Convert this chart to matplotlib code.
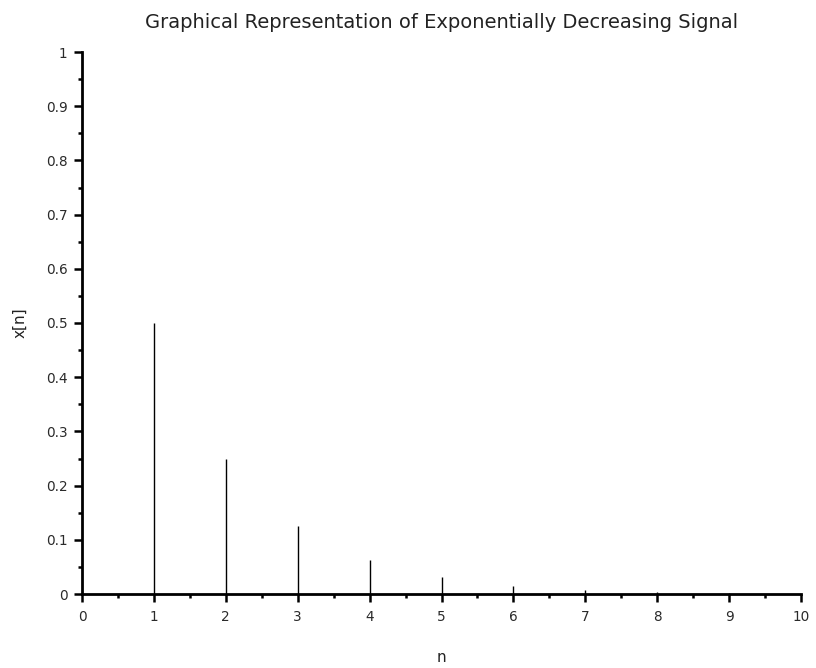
import matplotlib
matplotlib.use("Agg")
import matplotlib.pyplot as plt
from matplotlib.ticker import MultipleLocator

n = [1, 2, 3, 4, 5, 6, 7, 8, 9, 10]
x = [0.5, 0.25, 0.125, 0.0625, 0.03125, 0.015625, 0.0078125, 0.00390625, 0.001953125, 0.0009765625]
y_ticks = [0.0, 0.1, 0.2, 0.3, 0.4, 0.5, 0.6, 0.7, 0.8, 0.9, 1.0]
y_tick_labels = ['0', '0.1', '0.2', '0.3', '0.4', '0.5', '0.6', '0.7', '0.8', '0.9', '1']

plt.rcParams['font.family'] = ['DejaVu Sans']
fig = plt.figure(figsize=(8.16, 6.68), dpi=100)
ax = fig.add_axes([82/816, 1-594/668, (801-82)/816, (594-52)/668])
ax.vlines(n, 0, x, colors='black', linewidth=1)
ax.set_xlim(0, 10)
ax.set_ylim(0, 1)
ax.spines['top'].set_visible(False)
ax.spines['right'].set_visible(False)
for s in ['left', 'bottom']:
    ax.spines[s].set_linewidth(2)
ax.xaxis.set_major_locator(MultipleLocator(1))
ax.xaxis.set_minor_locator(MultipleLocator(0.5))
ax.set_yticks(y_ticks)
ax.set_yticklabels(y_tick_labels)
ax.yaxis.set_minor_locator(MultipleLocator(0.05))
ax.tick_params(which='major', direction='out', length=5.5, width=1.8, labelsize=9.8,
               colors='black', labelcolor='#2a2a2a')
ax.tick_params(axis='x', which='major', pad=6)
ax.tick_params(axis='y', which='major', pad=5)
ax.tick_params(which='minor', direction='out', length=3, width=1.8)
ax.set_xlabel('n', fontsize=11, labelpad=19, color='#222222')
ax.set_ylabel('x[n]', fontsize=11, labelpad=13, color='#222222')
ax.set_title('Graphical Representation of Exponentially Decreasing Signal', fontsize=14,
             pad=17, color='#222222')
fig.savefig('out.png', dpi=100)
